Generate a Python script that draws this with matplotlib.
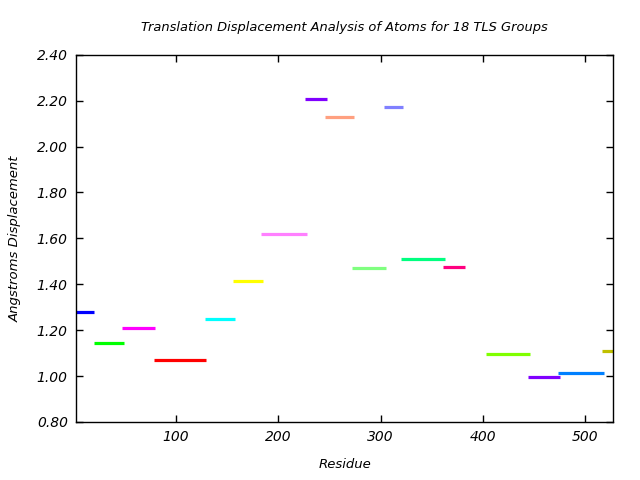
"""
Translation displacement per TLS group, drawn as horizontal segments
spanning each group's residue range.
"""

from matplotlib import pyplot as plt
from matplotlib.ticker import FormatStrFormatter, MultipleLocator

# residue ranges of each TLS group (start, end) and its displacement
RES_START = [1, 20, 48, 79, 129, 156, 183, 226, 246, 272, 303, 320, 361, 403, 444, 473, 516]
RES_END = [20, 50, 80, 130, 158, 185, 228, 248, 274, 305, 322, 363, 382, 446, 475, 518, 540]
DISPLACEMENT = [1.278, 1.143, 1.209, 1.069, 1.248, 1.415, 1.618, 2.205, 2.127,
                1.470, 2.174, 1.508, 1.474, 1.095, 0.996, 1.012, 1.109]
COLORS = ["#0000ff", "#00ff00", "#ff00ff", "#ff0000", "#00ffff", "#ffff00",
          "#ff80ff", "#8000ff", "#ffa080", "#80ff80", "#8080ff", "#00ff80",
          "#ff0080", "#80ff00", "#8000ff", "#0080ff", "#c0c000"]

fig, ax = plt.subplots(figsize=(6.4, 4.8), dpi=100)
fig.subplots_adjust(left=0.119, right=0.958, top=0.886, bottom=0.121)

for start, end, value, color in zip(RES_START, RES_END, DISPLACEMENT, COLORS):
    ax.plot([start, end], [value, value], color=color, linewidth=2.3,
            solid_capstyle="butt")

ax.set_xlim(3, 527)
ax.set_ylim(0.8, 2.4)
ax.xaxis.set_major_locator(MultipleLocator(100))
ax.yaxis.set_major_locator(MultipleLocator(0.2))
ax.yaxis.set_major_formatter(FormatStrFormatter("%.2f"))
ax.tick_params(direction="in", top=True, right=True, length=5, width=1,
               labelsize=10, pad=6)
for label in ax.get_xticklabels() + ax.get_yticklabels():
    label.set_fontstyle("italic")
for spine in ax.spines.values():
    spine.set_linewidth(1)

ax.set_title("Translation Displacement Analysis of Atoms for 18 TLS Groups",
             fontsize=9.4, fontstyle="italic", pad=17)
ax.set_xlabel("Residue", fontsize=9.5, fontstyle="italic", labelpad=10)
ax.set_ylabel("Angstroms Displacement", fontsize=9.5, fontstyle="italic",
              labelpad=11)

fig.savefig("out.png", dpi=100)
